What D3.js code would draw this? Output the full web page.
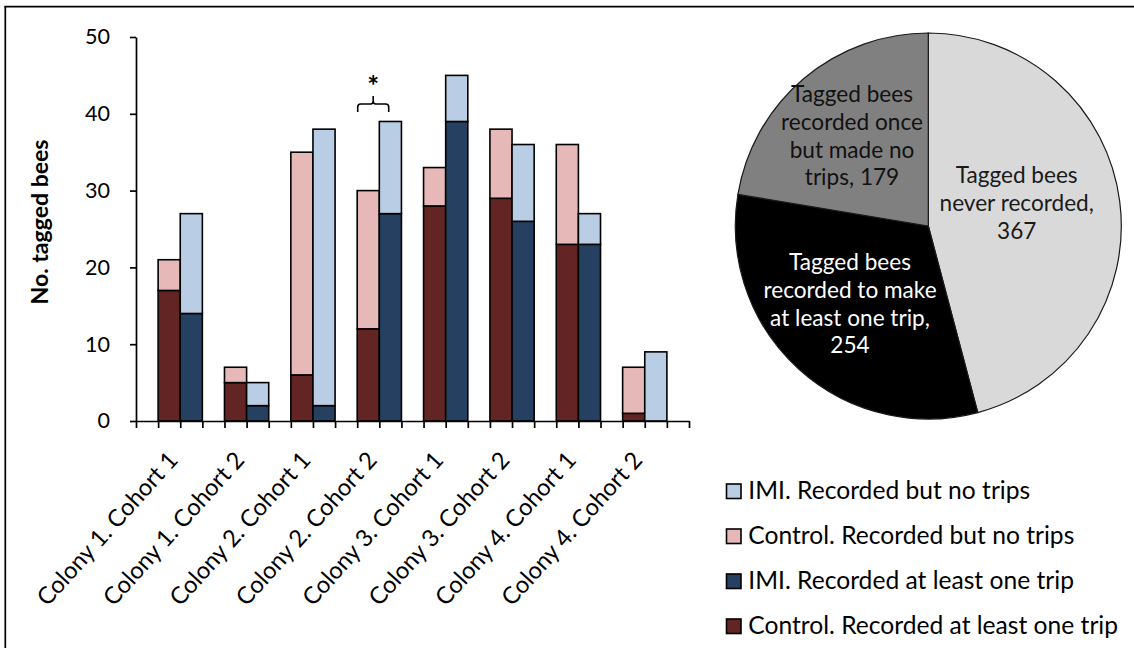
<!DOCTYPE html>
<html>
<head>
<meta charset="utf-8">
<script src="https://cdn.jsdelivr.net/npm/d3@7"></script>
<style>
  html, body { margin: 0; padding: 0; background: #fff; }
  svg { display: block; }
</style>
</head>
<body>
<div id="chart"></div>
<script>
// ---------------- DATA ----------------
const categories = [
  "Colony 1. Cohort 1", "Colony 1. Cohort 2", "Colony 2. Cohort 1", "Colony 2. Cohort 2",
  "Colony 3. Cohort 1", "Colony 3. Cohort 2", "Colony 4. Cohort 1", "Colony 4. Cohort 2"
];
const controlTrips   = [17, 5, 6, 12, 28, 29, 23, 1];
const controlNoTrips = [4, 2, 29, 18, 5, 9, 13, 6];
const imiTrips       = [14, 2, 2, 27, 39, 26, 23, 0];
const imiNoTrips     = [13, 3, 36, 12, 6, 10, 4, 9];
const yTicks = [0, 10, 20, 30, 40, 50];
const yTitle = "No. tagged bees";
const sigGroup = 3; // "*" over Colony 2. Cohort 2

const pieValues = [367, 254, 179];
const pieLabels = [
  ["Tagged bees", "never recorded,", "367"],
  ["Tagged bees", "recorded to make", "at least one trip,", "254"],
  ["Tagged bees", "recorded once", "but made no", "trips, 179"]
];

const legendLabels = [
  "IMI. Recorded but no trips",
  "Control. Recorded but no trips",
  "IMI. Recorded at least one trip",
  "Control. Recorded at least one trip"
];

// ---------------- STYLE ----------------
const W = 1134, H = 648;
const FONT = "Lato, 'Open Sans', 'Noto Sans', sans-serif";
const col = {
  ctrlDark: "#632523", ctrlLight: "#e6b9b8",
  imiDark: "#254061", imiLight: "#b9cde5"
};
const legendColors = [col.imiLight, col.ctrlLight, col.imiDark, col.ctrlDark];
const pieColors = ["#d9d9d9", "#000000", "#808080"];
const pieTextColors = ["#1a1a1a", "#ffffff", "#111111"];

const svg = d3.select("#chart").append("svg")
  .attr("width", W).attr("height", H)
  .attr("font-family", FONT);

svg.append("rect").attr("width", W).attr("height", H).attr("fill", "#fff");

function fitSize(text, weight, target) {
  const t = svg.append("text").attr("font-size", 100).attr("font-weight", weight).text(text);
  const w = t.node().getComputedTextLength();
  t.remove();
  return 100 * target / w;
}

// frame (top + left visible)
svg.append("line").attr("x1", 4.5).attr("x2", W).attr("y1", 6.7).attr("y2", 6.7)
  .attr("stroke", "#000").attr("stroke-width", 1.7);
svg.append("line").attr("x1", 5.3).attr("x2", 5.3).attr("y1", 6).attr("y2", H)
  .attr("stroke", "#000").attr("stroke-width", 1.7);

// ---------------- BAR CHART ----------------
const nSlots = categories.length * 3 + 1;
const x = d3.scaleLinear().domain([0, nSlots]).range([136, 689]);
const y = d3.scaleLinear().domain([0, 50]).range([421, 37]);

const axisFs = fitSize("Colony 1. Cohort 1", 400, 197);
const tickFs = fitSize("50", 400, 25);

// bars
const g = svg.append("g");
categories.forEach((c, i) => {
  const segs = [
    { slot: 3 * i + 1, y0: 0, y1: controlTrips[i], fill: col.ctrlDark },
    { slot: 3 * i + 1, y0: controlTrips[i], y1: controlTrips[i] + controlNoTrips[i], fill: col.ctrlLight },
    { slot: 3 * i + 2, y0: 0, y1: imiTrips[i], fill: col.imiDark },
    { slot: 3 * i + 2, y0: imiTrips[i], y1: imiTrips[i] + imiNoTrips[i], fill: col.imiLight }
  ];
  segs.forEach(s => {
    if (s.y1 - s.y0 <= 0) return;
    g.append("rect")
      .attr("x", x(s.slot)).attr("width", x(s.slot + 1) - x(s.slot))
      .attr("y", y(s.y1)).attr("height", y(s.y0) - y(s.y1))
      .attr("fill", s.fill).attr("stroke", "#000").attr("stroke-width", 1.6);
  });
});

// y axis
const yAxis = svg.append("g").attr("transform", `translate(${x(0)},0)`)
  .call(d3.axisLeft(y).tickValues(yTicks).tickSize(6).tickSizeOuter(0).tickPadding(20));
yAxis.select(".domain").attr("stroke", "#000").attr("stroke-width", 1.7);
yAxis.selectAll(".tick line").attr("stroke", "#000").attr("stroke-width", 1.7);
yAxis.selectAll(".tick text").attr("font-family", FONT).attr("font-size", tickFs).attr("fill", "#000");

// x axis
const xAxis = svg.append("g").attr("transform", `translate(0,${y(0)})`)
  .call(d3.axisBottom(x).tickValues(d3.range(nSlots + 1)).tickFormat("").tickSize(7).tickSizeOuter(0));
xAxis.select(".domain").attr("stroke", "#000").attr("stroke-width", 1.7);
xAxis.selectAll(".tick line").attr("stroke", "#000").attr("stroke-width", 1.7);

// category labels
svg.append("g").selectAll("text").data(categories).join("text")
  .attr("transform", (d, i) => `translate(${x(3 * i + 2) - 1},${461}) rotate(-48)`)
  .attr("text-anchor", "end")
  .attr("font-size", axisFs).attr("fill", "#000")
  .text(d => d);

// y title
const titleFs = fitSize(yTitle, 700, 165);
svg.append("text")
  .attr("transform", `translate(48,222) rotate(-90)`)
  .attr("text-anchor", "middle").attr("font-weight", 700)
  .attr("font-size", titleFs).attr("fill", "#000")
  .text(yTitle);

// significance bracket
const bx0 = x(3 * sigGroup + 1) + 0.5, bx1 = bx0 + 31, bxm = (bx0 + bx1) / 2;
svg.append("path")
  .attr("d", `M${bx0},112 V107 Q${bx0},104 ${bx0 + 3},104 H${bxm - 2.5} Q${bxm},104 ${bxm},101 V96 M${bxm},101 Q${bxm},104 ${bxm + 2.5},104 H${bx1 - 3} Q${bx1},104 ${bx1},107 V112`)
  .attr("fill", "none").attr("stroke", "#000").attr("stroke-width", 1.6);
svg.append("text").attr("x", bxm).attr("y", 96).attr("text-anchor", "middle")
  .attr("font-size", 28).attr("font-weight", 700).attr("fill", "#000").text("*");

// ---------------- PIE ----------------
const cx = 928.3, cy = 226, R = 193;
const pie = d3.pie().sort(null).value(d => d)(pieValues);
const arc = d3.arc().innerRadius(0).outerRadius(R);
const pg = svg.append("g").attr("transform", `translate(${cx},${cy})`);
pg.selectAll("path").data(pie).join("path")
  .attr("d", arc)
  .attr("fill", (d, i) => pieColors[i])
  .attr("stroke", "#1a1a1a").attr("stroke-width", 1.2);

const pieFs = fitSize("Tagged bees", 400, 122);
const labelCenters = [[88.4, -23], [-78.3, 77.8], [-76.3, -90.1]];
const lineH = 27.7;
pieLabels.forEach((lines, i) => {
  const [lx, ly] = labelCenters[i];
  const t = pg.append("text").attr("text-anchor", "middle")
    .attr("font-size", pieFs).attr("fill", pieTextColors[i]);
  lines.forEach((ln, k) => {
    t.append("tspan").attr("x", lx)
      .attr("y", ly + (k - (lines.length - 1) / 2) * lineH + 8)
      .text(ln);
  });
});

// ---------------- LEGEND ----------------
const legFs = fitSize("Control. Recorded at least one trip", 400, 370);
const lg = svg.append("g");
legendLabels.forEach((lab, i) => {
  const base = 498.5 + i * 45;
  lg.append("rect").attr("x", 726.5).attr("y", base - 14.5).attr("width", 14.5).attr("height", 14.5)
    .attr("fill", legendColors[i]).attr("stroke", "#000").attr("stroke-width", 1.6);
  lg.append("text").attr("x", 748.3).attr("y", base)
    .attr("font-size", legFs).attr("fill", "#000").text(lab);
});
</script>
</body>
</html>
